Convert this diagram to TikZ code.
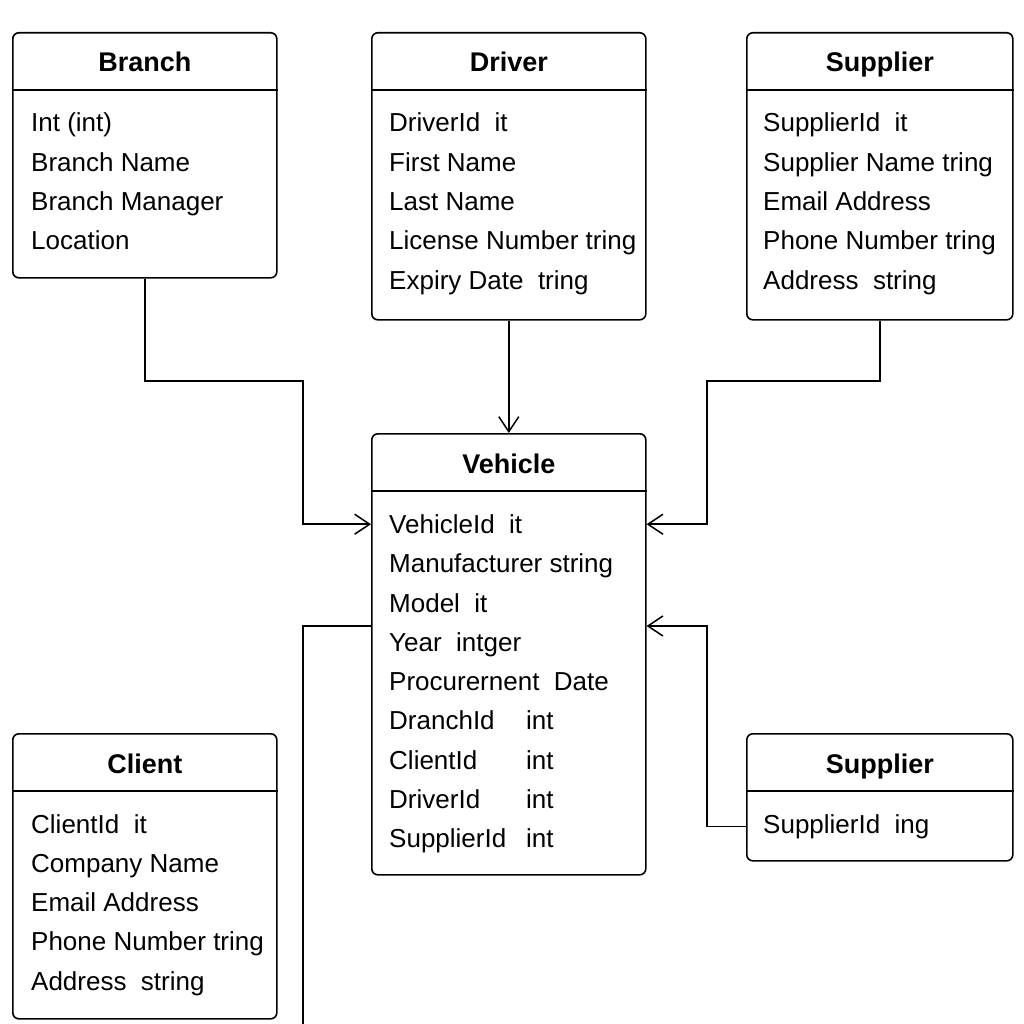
\documentclass[tikz,border=0pt]{standalone}
\usepackage{fontspec}
\setmainfont{Liberation Sans}
\usetikzlibrary{arrows.meta}
\tikzstyle{entityBox}=[draw, rounded corners = 6pt, line width = 1.6pt, anchor = north west, inner sep = 0pt]
\tikzstyle{entityTitle}=[font = \fontsize{27}{30}\selectfont\bfseries, anchor = base, inner sep = 0pt]
\tikzstyle{entityRow}=[font = \fontsize{26}{30}\selectfont, anchor = base west, inner sep = 0pt]
\tikzstyle{headLine}=[line width = 1.6pt]
\tikzstyle{relLine}=[line width = 1.5pt]
\tikzstyle{relArrow}=[line width = 1.5pt, -{Straight Barb[length = 15pt, width = 20pt]}]

\begin{document}
\begin{tikzpicture}[x = 1pt, y = -1pt]
\useasboundingbox (0,0) rectangle (1024,1024);
\node[entityBox, minimum width = 264pt, minimum height = 245pt] (e0) at (12,32) {};
\node[entityBox, minimum width = 274pt, minimum height = 287pt] (e1) at (371,32) {};
\node[entityBox, minimum width = 266pt, minimum height = 287pt] (e2) at (746,32) {};
\node[entityBox, minimum width = 264pt, minimum height = 285pt] (e3) at (12,733) {};
\node[entityBox, minimum width = 274pt, minimum height = 441pt] (e4) at (371,433) {};
\node[entityBox, minimum width = 266pt, minimum height = 127pt] (e5) at (746,733) {};
\foreach \e/\t in {e0/Branch, e1/Driver, e2/Supplier, e3/Client, e4/Vehicle, e5/Supplier}{
  \node[entityTitle] (\e t) at ([yshift = -40pt]\e.north) {\t};
  \draw[headLine] ([yshift = -58pt]\e.north west) -- ([yshift = -58pt]\e.north east);
}
\foreach \t [count = \i from 0] in {Int (int), Branch Name, Branch Manager, Location}
  \node[entityRow] (e0r\i) at ([xshift = 19pt, yshift = -(100+39.3*\i)*1pt]e0.north west) {\t};
\foreach \t [count = \i from 0] in {DriverId\ \ it, First Name, Last Name, License Number tring, Expiry Date\ \ tring}
  \node[entityRow] (e1r\i) at ([xshift = 18pt, yshift = -(100+39.3*\i)*1pt]e1.north west) {\t};
\foreach \t [count = \i from 0] in {SupplierId\ \ it, Supplier Name tring, Email Address, Phone Number tring, Address\ \ string}
  \node[entityRow] (e2r\i) at ([xshift = 17pt, yshift = -(100+39.3*\i)*1pt]e2.north west) {\t};
\foreach \t [count = \i from 0] in {ClientId\ \ it, Company Name, Email Address, Phone Number tring, Address\ \ string}
  \node[entityRow] (e3r\i) at ([xshift = 19pt, yshift = -(100+39.3*\i)*1pt]e3.north west) {\t};
\foreach \t [count = \i from 0] in {VehicleId\ \ it, Manufacturer string, Model\ \ it, Year\ \ intger, Procurernent\ \ Date,
  {\makebox[137pt][l]{DranchId}int}, {\makebox[137pt][l]{ClientId}int}, {\makebox[137pt][l]{DriverId}int}, {\makebox[137pt][l]{SupplierId}int}}
  \node[entityRow] (e4r\i) at ([xshift = 18pt, yshift = -(100.5+39.25*\i)*1pt]e4.north west) {\t};
\node[entityRow] (e5r0) at ([xshift = 17pt, yshift = -100pt]e5.north west) {SupplierId\ \ ing};
\coordinate (j0) at (303,381);
\coordinate (j1) at (707,381);
\coordinate (j2) at (303,1024);
\coordinate (j3) at (707,626);
\draw[relArrow] (e0.south) |- (j0) |- (e4.west |- e4r0);
\draw[relArrow] (e1.south) -- (e4.north);
\draw[relArrow] (e2.south) |- (j1) |- (e4.east |- e4r0);
\draw[relLine] (e4.west |- j3) -| (j2);
\draw[relArrow] (e5.west |- e5r0) -| (j3) -- (e4.east |- j3);
%
\end{tikzpicture}
\end{document}
